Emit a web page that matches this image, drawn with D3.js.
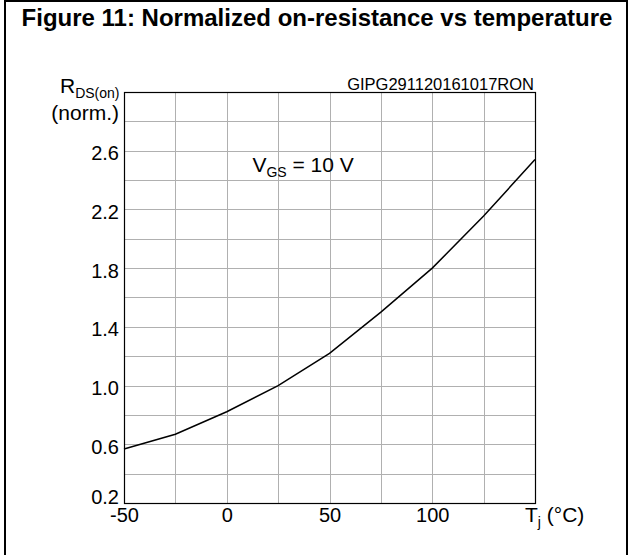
<!DOCTYPE html>
<html>
<head>
<meta charset="utf-8">
<script src="https://cdn.jsdelivr.net/npm/d3@7"></script>
<style>
  body { margin: 0; background: #fff; }
  svg { display: block; font-family: "Liberation Sans", Arial, sans-serif; }
</style>
</head>
<body>
<div id="chart"></div>
<script>
// curve
var temps = [-50, -25, 0, 25, 50, 75, 100, 125, 150];
var rdsNorm = [0.568, 0.668, 0.822, 1.0, 1.22, 1.5, 1.8, 2.155, 2.54];
var xTickVals = [-50, 0, 50, 100];
var yTickVals = [0.2, 0.6, 1.0, 1.4, 1.8, 2.2, 2.6];
var xGridVals = [-50, -25, 0, 25, 50, 75, 100, 125, 150];
var yGridVals = d3.range(0, 15).map(function (i) { return +(0.2 + i * 0.2).toFixed(1) });

var W = 629, H = 555;
var margin = {top: 92, right: 94, bottom: 52, left: 124};
var width = W - margin.left - margin.right;
var height = H - margin.top - margin.bottom;

var svg = d3.select('#chart').append('svg')
    .attr('width', W)
    .attr('height', H);

// outer frame (bottom edge is cut off in the source)
svg.append('path')
    .attr('d', 'M5,555 V1 H627 V555')
    .attr('fill', 'none')
    .attr('stroke', '#000')
    .attr('stroke-width', 2);

svg.append('text')
    .attr('x', 317)
    .attr('y', 26)
    .attr('text-anchor', 'middle')
    .attr('font-weight', 'bold')
    .attr('font-size', 24)
    .text('Figure 11: Normalized on-resistance vs temperature');

var x = d3.scaleLinear().domain([-50, 150]).range([0, width]);
var y = d3.scaleLinear().domain([0.2, 3.0]).range([height, 0]);

var g = svg.append('g')
    .attr('transform', 'translate(' + margin.left + ',' + margin.top + ')');

// grid
g.append('g').selectAll('line')
    .data(xGridVals)
    .enter().append('line')
      .attr('x1', function (d) { return Math.round(x(d)) + 0.5 })
      .attr('x2', function (d) { return Math.round(x(d)) + 0.5 })
      .attr('y1', 0)
      .attr('y2', height)
      .attr('stroke', '#b0b0b0')
      .attr('stroke-width', 1);

g.append('g').selectAll('line')
    .data(yGridVals)
    .enter().append('line')
      .attr('x1', 0)
      .attr('x2', width)
      .attr('y1', function (d) { return Math.round(y(d)) + 0.5 })
      .attr('y2', function (d) { return Math.round(y(d)) + 0.5 })
      .attr('stroke', '#b0b0b0')
      .attr('stroke-width', 1);

g.append('rect')
    .attr('x', 0.5)
    .attr('y', 0.5)
    .attr('width', width)
    .attr('height', height)
    .attr('fill', 'none')
    .attr('stroke', '#000')
    .attr('stroke-width', 1.2);

// curve
var pts = temps.map(function (t, i) { return [t, rdsNorm[i]] });
var line = d3.line()
    .x(function (d) { return x(d[0]) })
    .y(function (d) { return y(d[1]) });

g.append('path')
    .datum(pts)
    .attr('d', line)
    .attr('fill', 'none')
    .attr('stroke', '#000')
    .attr('stroke-width', 1.5);

// axes, labels only
var xAxis = d3.axisBottom(x)
    .tickValues(xTickVals)
    .tickSize(0)
    .tickPadding(0)
    .tickFormat(function (d) { return String(d) });

var gx = g.append('g')
    .attr('transform', 'translate(0,' + height + ')')
    .call(xAxis);
gx.select('.domain').remove();
gx.selectAll('text')
    .attr('dy', null)
    .attr('y', 19)
    .attr('font-size', 20)
    .attr('font-family', null)
    .attr('fill', '#000');

var yAxis = d3.axisLeft(y)
    .tickValues(yTickVals)
    .tickSize(0)
    .tickPadding(5)
    .tickFormat(d3.format('.1f'));

var gy = g.append('g').call(yAxis);
gy.select('.domain').remove();
gy.selectAll('text')
    .attr('font-size', 20)
    .attr('font-family', null)
    .attr('fill', '#000')
    .attr('dy', function (d) { return d === 0.2 ? '0' : '0.45em' });

var tl = g.append('text')
    .attr('x', 401)
    .attr('y', height + 19)
    .attr('font-size', 21);
tl.append('tspan').text('T');
tl.append('tspan').attr('font-size', 14).attr('dy', 5).text('j');
tl.append('tspan').attr('dy', -5).text(' (°C)');

var yl = svg.append('text')
    .attr('x', 60)
    .attr('y', 93)
    .attr('font-size', 21);
yl.append('tspan').text('R');
yl.append('tspan').attr('font-size', 14).attr('dy', 5).text('DS(on)');

svg.append('text')
    .attr('x', 119)
    .attr('y', 120)
    .attr('text-anchor', 'end')
    .attr('font-size', 21)
    .text('(norm.)');

svg.append('text')
    .attr('x', 534)
    .attr('y', 90)
    .attr('text-anchor', 'end')
    .attr('font-size', 16.5)
    .text('GIPG291120161017RON');

var vg = g.append('text')
    .attr('x', x(-25) + 77)
    .attr('y', y(2.6) + 21)
    .attr('font-size', 21);
vg.append('tspan').text('V');
vg.append('tspan').attr('font-size', 14).attr('dy', 5).text('GS');
vg.append('tspan').attr('dy', -5).text(' = 10 V');
</script>
</body>
</html>
